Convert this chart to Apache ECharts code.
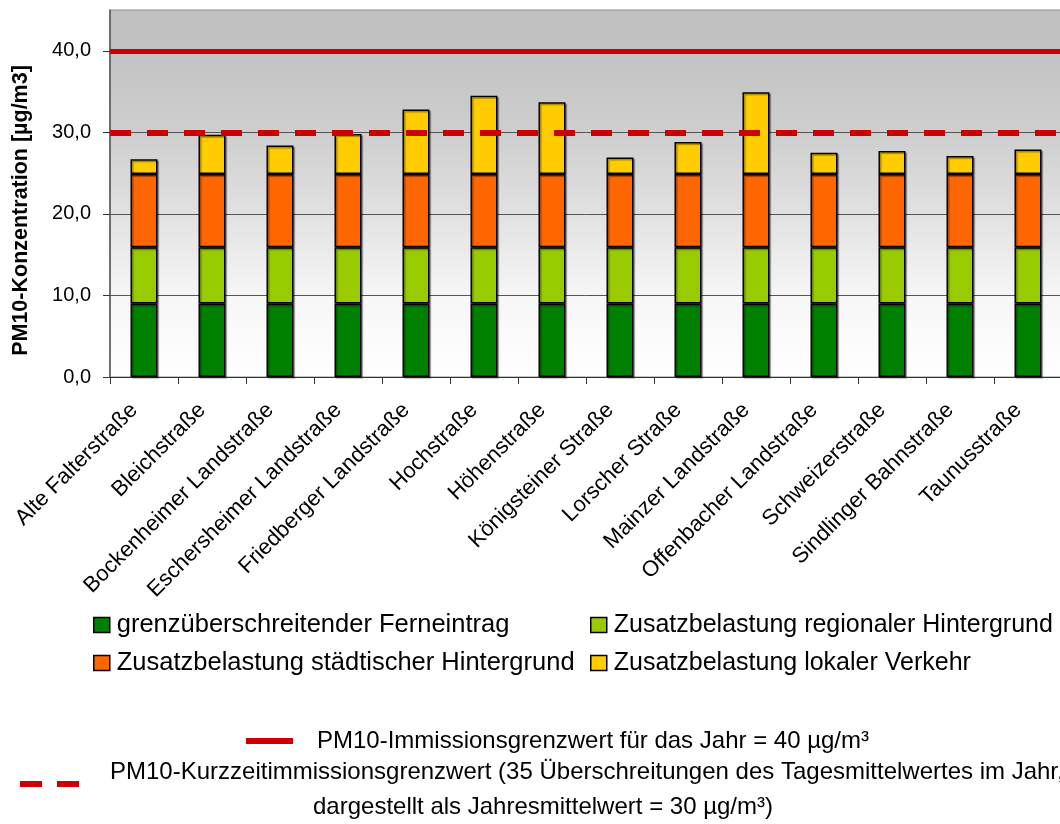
<!DOCTYPE html>
<html><head><meta charset="utf-8">
<script src="https://cdn.jsdelivr.net/npm/echarts@6/dist/echarts.min.js"></script>
<style>html,body{margin:0;padding:0;background:#fff}#c{width:1060px;height:824px}</style>
</head><body><div id="c"></div>
<script>
const categories = ['Alte Falterstraße','Bleichstraße','Bockenheimer Landstraße','Eschersheimer Landstraße','Friedberger Landstraße','Hochstraße','Höhenstraße','Königsteiner Straße','Lorscher Straße','Mainzer Landstraße','Offenbacher Landstraße','Schweizerstraße','Sindlinger Bahnstraße','Taunusstraße'];
const ferneintrag = [9.0, 9.0, 9.0, 9.0, 9.0, 9.0, 9.0, 9.0, 9.0, 9.0, 9.0, 9.0, 9.0, 9.0];
const regionalerHintergrund = [6.9, 6.9, 6.9, 6.9, 6.9, 6.9, 6.9, 6.9, 6.9, 6.9, 6.9, 6.9, 6.9, 6.9];
const staedtischerHintergrund = [9.0, 9.0, 9.0, 9.0, 9.0, 9.0, 9.0, 9.0, 9.0, 9.0, 9.0, 9.0, 9.0, 9.0];
const lokalerVerkehr = [1.8, 4.8, 3.5, 4.9, 7.9, 9.6, 8.8, 2.0, 3.9, 10.0, 2.6, 2.8, 2.2, 3.0];
const grenzwertJahr = 40;
const grenzwertKurzzeit = 30;
const yTicks = [0, 10, 20, 30, 40];
const yMax = 45;

const FONT = 'Liberation Sans, Arial, sans-serif';
const names = {
  s1: 'grenzüberschreitender Ferneintrag',
  s2: 'Zusatzbelastung regionaler Hintergrund',
  s3: 'Zusatzbelastung städtischer Hintergrund',
  s4: 'Zusatzbelastung lokaler Verkehr',
  l1: 'PM10-Immissionsgrenzwert für das Jahr = 40 µg/m³',
  l2: 'PM10-Kurzzeitimmissionsgrenzwert'
};
const barStyle = c => ({ color: c, borderColor: '#000', borderWidth: 1.5,
  shadowColor: 'rgba(0,0,0,0.35)', shadowOffsetX: 1.5, shadowOffsetY: 1.5, shadowBlur: 1 });
function bar(name, data, color) {
  return { name, type: 'bar', stack: 'pm', data, barWidth: 27, itemStyle: barStyle(color), z: 2 };
}
const chart = echarts.init(document.getElementById('c'), null, { renderer: 'canvas' });
const legendText = { fontFamily: FONT, fontSize: 25.5, color: '#000', lineHeight: 26, padding: [0, 0, 0, 2] };
const legendText2 = { fontFamily: FONT, fontSize: 25, color: '#000', lineHeight: 26, padding: [0, 0, 0, 2] };
chart.setOption({
  animation: false,
  backgroundColor: '#fff',
  textStyle: { fontFamily: FONT },
  grid: {
    left: 110, top: 10, width: 952, height: 367, show: true, borderColor: '#8c8c8c', borderWidth: 1,
    outerBoundsMode: 'none', containLabel: false,
    backgroundColor: { type: 'linear', x: 0, y: 0, x2: 0, y2: 1, colorStops: [
      { offset: 0, color: '#c0c0c0' }, { offset: 0.109, color: '#c2c2c2' }, { offset: 0.333, color: '#cecece' },
      { offset: 0.555, color: '#e1e1e1' }, { offset: 0.777, color: '#f6f6f6' }, { offset: 1, color: '#ffffff' } ] }
  },
  legend: [
    { orient: 'vertical', left: 93, top: 612, padding: 0, itemWidth: 16, itemHeight: 15, itemGap: 12, icon: 'rect',
      itemStyle: { borderColor: '#000', borderWidth: 1.5 }, textStyle: legendText, data: [names.s1, names.s3], selectedMode: false },
    { orient: 'vertical', left: 590, top: 612, padding: 0, itemWidth: 16, itemHeight: 15, itemGap: 12, icon: 'rect',
      itemStyle: { borderColor: '#000', borderWidth: 1.5 }, textStyle: legendText2, data: [names.s2, names.s4], selectedMode: false },
    { left: 246, top: 724, padding: 0, itemWidth: 47, itemHeight: 6, icon: 'rect', itemStyle: { borderWidth: 0 },
      textStyle: { fontFamily: FONT, fontSize: 24, color: '#000', lineHeight: 24, padding: [0, 0, 10, 19] },
      data: [names.l1], selectedMode: false },
    { left: 20, top: 743, padding: 0, itemWidth: 59, itemHeight: 6, icon: 'path://M0,0H22V6H0Z M37,0H59V6H37Z', itemStyle: { borderWidth: 0 },
      textStyle: { fontFamily: FONT, fontSize: 24, color: '#000', lineHeight: 35, padding: [12, 0, 0, 26],
        rich: { c: { fontFamily: FONT, fontSize: 24, color: '#000', lineHeight: 35, padding: [0, 0, 0, 203] } } },
      formatter: () => 'PM10-Kurzzeitimmissionsgrenzwert (35 Überschreitungen des Tagesmittelwertes im Jahr,\n{c|dargestellt als Jahresmittelwert = 30 µg/m³)}',
      data: [names.l2], selectedMode: false }
  ],
  xAxis: {
    type: 'category', data: categories, boundaryGap: true,
    axisLine: { lineStyle: { color: '#333', width: 1 } },
    axisTick: { show: true, length: 7, lineStyle: { color: '#333' } },
    axisLabel: { interval: 0, rotate: 45, fontFamily: FONT, fontSize: 22, color: '#000', margin: 20, padding: [0, 14, 0, 0] },
    splitLine: { show: false }
  },
  yAxis: {
    type: 'value', min: 0, max: yMax, interval: 10,
    name: 'PM10-Konzentration [µg/m3]', nameLocation: 'middle', nameGap: 78,
    nameTextStyle: { fontFamily: FONT, fontSize: 21.5, fontWeight: 'bold', color: '#000', padding: [0, 34, 0, 0] },
    axisLine: { show: true, lineStyle: { color: '#555', width: 1.5 } },
    axisTick: { show: true, length: 7, customValues: yTicks, lineStyle: { color: '#333' } },
    axisLabel: { customValues: yTicks, fontFamily: FONT, fontSize: 20, color: '#000', margin: 19,
      formatter: v => v.toFixed(1).replace('.', ',') },
    splitLine: { show: true, showMaxLine: false, lineStyle: { color: '#555', width: 1 } }
  },
  series: [
    bar(names.s1, ferneintrag, '#008000'),
    bar(names.s2, regionalerHintergrund, '#99cc00'),
    bar(names.s3, staedtischerHintergrund, '#ff6600'),
    bar(names.s4, lokalerVerkehr, '#ffcc00'),
    { name: names.l1, type: 'line', data: [], color: '#cc0000', z: 5,
      markLine: { silent: true, symbol: ['none', 'none'], label: { show: false },
        lineStyle: { color: '#cc0000', width: 5, type: 'solid' }, data: [{ yAxis: grenzwertJahr }] } },
    { name: names.l2, type: 'line', data: [], color: '#cc0000', z: 5,
      markLine: { silent: true, symbol: ['none', 'none'], label: { show: false },
        lineStyle: { color: '#cc0000', width: 6, type: [21, 16], dashOffset: 0 }, data: [{ yAxis: grenzwertKurzzeit }] } }
  ]
});
</script></body></html>
